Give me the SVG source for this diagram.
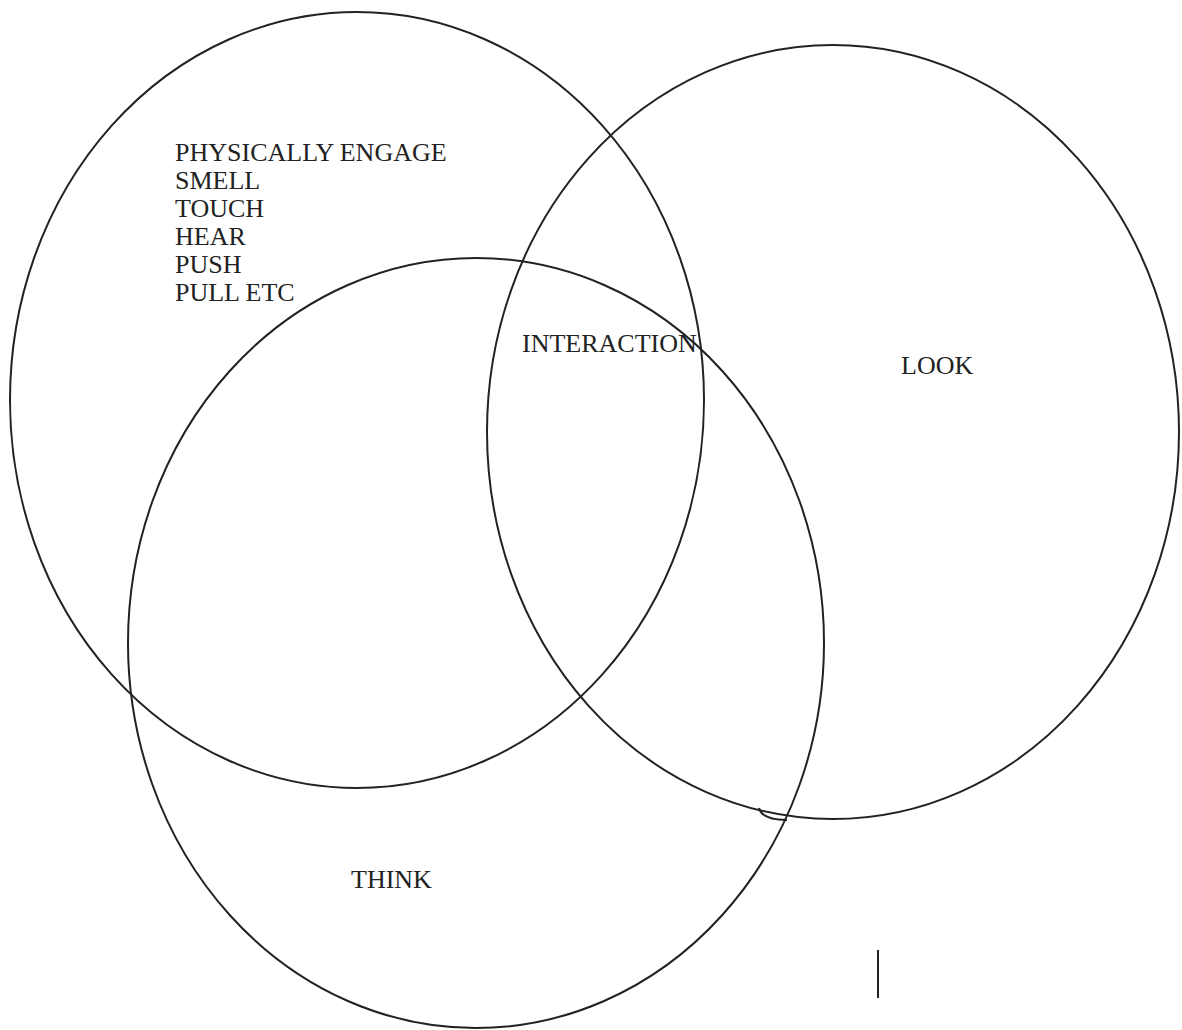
<svg xmlns="http://www.w3.org/2000/svg" width="1182" height="1030" viewBox="0 0 1182 1030">
<style>
.c{fill:none;stroke:#222;stroke-width:2}
.t{font-family:"Liberation Serif","Times New Roman",serif;font-size:26px;fill:#222}
</style>
<rect width="1182" height="1030" fill="#fff"/>
<g id="physical">
<ellipse class="c" cx="357" cy="400" rx="347" ry="388"/>
<text class="t" x="175" y="161">PHYSICALLY ENGAGE</text>
<text class="t" x="175" y="189">SMELL</text>
<text class="t" x="175" y="217">TOUCH</text>
<text class="t" x="175" y="245">HEAR</text>
<text class="t" x="175" y="273">PUSH</text>
<text class="t" x="175" y="301">PULL ETC</text>
</g>
<g id="look">
<ellipse class="c" cx="833" cy="432" rx="346" ry="387"/>
<text class="t" x="901" y="374">LOOK</text>
</g>
<g id="think">
<ellipse class="c" cx="476" cy="643" rx="348" ry="385"/>
<text class="t" x="351" y="888">THINK</text>
</g>
<g id="interaction">
<text class="t" x="522" y="352">INTERACTION</text>
</g>
<g id="marks">
<path class="c" d="M759 808 Q762 820 787 820"/>
<line class="c" x1="878" y1="950" x2="878" y2="998"/>
</g>
</svg>
